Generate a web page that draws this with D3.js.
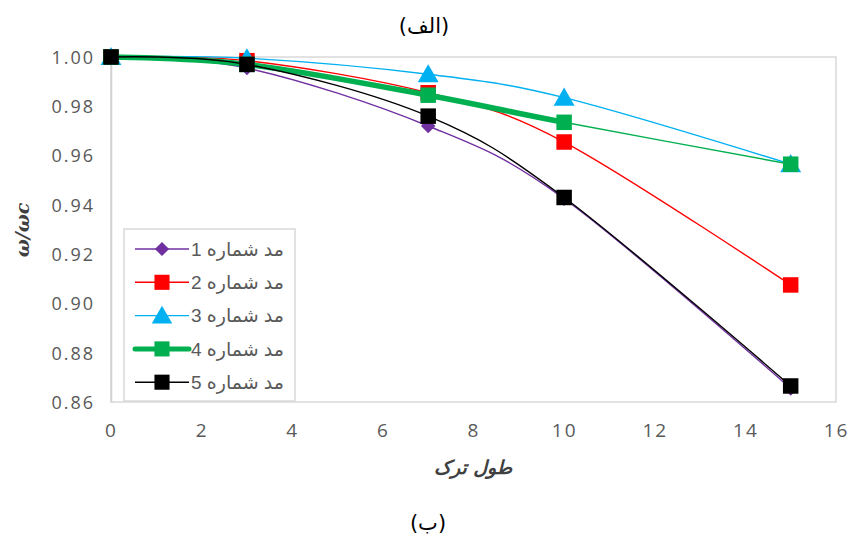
<!DOCTYPE html>
<html><head><meta charset="utf-8">
<script src="https://cdnjs.cloudflare.com/ajax/libs/d3/7.8.5/d3.min.js"></script>
<style>
html,body{margin:0;padding:0;background:#fff;}
svg{display:block;}
</style></head>
<body><svg id="c" width="848" height="535"></svg>
<script>
const xValues = [0, 3, 7, 10, 15];
const seriesNames = ["مد شماره 1", "مد شماره 2", "مد شماره 3", "مد شماره 4", "مد شماره 5"];
const mode1 = [1.000, 0.9955, 0.972, 0.9425, 0.8655];
const mode2 = [1.000, 0.9985, 0.9855, 0.9655, 0.9075];
const mode3 = [1.000, 0.9995, 0.993, 0.9835, 0.9565];
const mode4 = [1.000, 0.997, 0.9845, 0.9735, 0.9565];
const mode5 = [1.000, 0.997, 0.976, 0.943, 0.8665];
const xTicks = [0, 2, 4, 6, 8, 10, 12, 14, 16];
const yTicks = [0.86, 0.88, 0.90, 0.92, 0.94, 0.96, 0.98, 1.00];
const chartTitle = "(الف)";
const bottomLabel = "(ب)";
const xTitle = "طول ترک";
const yTitle = "ω/ωc";

const colors = ["#7030A0", "#FF0000", "#00B0F0", "#00B050", "#000000"];
const symbols = [d3.symbolSquare, d3.symbolSquare, d3.symbolTriangle, d3.symbolSquare, d3.symbolSquare];
const symSizes = [105, 240, 190, 240, 240];
const widths = [1.4, 1.4, 1.4, 1.4, 1.4];
const allSeries = [mode1, mode2, mode3, mode4, mode5];

const svg = d3.select("#c");
const x = d3.scaleLinear().domain([0, 16]).range([111, 836]);
const y = d3.scaleLinear().domain([0.86, 1.00]).range([402, 57]);

svg.append("rect").attr("x", x(0)).attr("y", y(1.0)).attr("width", x(16) - x(0)).attr("height", y(0.86) - y(1.0))
  .attr("fill", "none").attr("stroke", "#d9d9d9").attr("stroke-width", 1.5);

const xAxis = d3.axisBottom(x).tickValues(xTicks).tickSize(0).tickPadding(0).tickFormat(d3.format("d"));
const gx = svg.append("g").attr("transform", `translate(0,${y(0.86)})`).call(xAxis);
gx.select(".domain").remove();
gx.selectAll("text").attr("y", 35).attr("dy", 0).attr("fill", "#595959")
  .style("font-family", "'Open Sans'").style("font-size", "19px").style("letter-spacing", "2px");

const yAxis = d3.axisLeft(y).tickValues(yTicks).tickSize(0).tickPadding(0).tickFormat(d3.format(".2f"));
const gy = svg.append("g").attr("transform", `translate(${x(0)},0)`).call(yAxis);
gy.select(".domain").attr("stroke", "#d0d0d0").attr("stroke-width", 1.5);
gy.selectAll("text").attr("x", -16).attr("dy", "0.35em").attr("fill", "#595959")
  .style("font-family", "'Open Sans'").style("font-size", "18px").style("letter-spacing", "2px");

svg.append("clipPath").attr("id", "clipThick").append("rect")
  .attr("x", 0).attr("y", 0).attr("width", x(10)).attr("height", 535);

const line = d3.line().x((d, i) => x(xValues[i])).y(d => y(d)).curve(d3.curveCardinal.tension(0));

function markerTransform(s, px, py) {
  if (s === 0) return `translate(${px},${py}) rotate(45)`;
  if (s === 2) return `translate(${px},${py + 2})`;
  return `translate(${px},${py})`;
}

allSeries.forEach((vals, s) => {
  const g = svg.append("g");
  g.append("path").attr("d", line(vals)).attr("fill", "none")
    .attr("stroke", colors[s]).attr("stroke-width", widths[s]);
  if (s === 3) {
    g.append("path").attr("d", line(vals)).attr("fill", "none").attr("clip-path", "url(#clipThick)")
      .attr("stroke", colors[s]).attr("stroke-width", 5.5).attr("stroke-linecap", "round");
  }
  g.selectAll("path.m").data(vals).enter().append("path").attr("class", "m")
    .attr("d", d3.symbol().type(symbols[s]).size(symSizes[s]))
    .attr("transform", (d, i) => markerTransform(s, x(xValues[i]), y(d)))
    .attr("fill", colors[s]);
});

const lg = svg.append("g");
lg.append("rect").attr("x", 124).attr("y", 229).attr("width", 171).attr("height", 172)
  .attr("fill", "#fff").attr("stroke", "#d9d9d9").attr("stroke-width", 1.5);
seriesNames.forEach((name, s) => {
  const cy = 249 + s * 33.3;
  lg.append("line").attr("x1", 135).attr("x2", 189).attr("y1", cy).attr("y2", cy)
    .attr("stroke", colors[s]).attr("stroke-width", s === 3 ? 5 : 1.4).attr("stroke-linecap", s === 3 ? "round" : "butt");
  lg.append("path").attr("d", d3.symbol().type(symbols[s]).size(symSizes[s] * 0.95))
    .attr("transform", markerTransform(s, 162, cy))
    .attr("fill", colors[s]);
  lg.append("text").attr("x", 284).attr("y", cy).attr("dy", "0.36em")
    .attr("direction", "rtl").attr("text-anchor", "start")
    .attr("fill", "#595959").style("font-family", "'Liberation Sans','DejaVu Sans'").style("font-size", "19px")
    .text(name);
});

svg.append("text").attr("x", 424).attr("y", 33).attr("text-anchor", "middle").attr("direction", "rtl")
  .style("font-family", "'DejaVu Sans'").style("font-size", "21px").attr("fill", "#000").text(chartTitle);
svg.append("text").attr("x", 473).attr("y", 474).attr("text-anchor", "middle").attr("direction", "rtl")
  .style("font-family", "'DejaVu Sans'").style("font-size", "19px").style("font-weight", "bold").style("font-style", "italic")
  .attr("fill", "#404040").text(xTitle);
svg.append("text").attr("x", 428).attr("y", 530).attr("text-anchor", "middle").attr("direction", "rtl")
  .style("font-family", "'DejaVu Sans'").style("font-size", "21px").attr("fill", "#000").text(bottomLabel);
svg.append("text").attr("transform", `translate(29,230) rotate(-90)`).attr("text-anchor", "middle")
  .style("font-family", "'DejaVu Serif'").style("font-size", "19px").style("font-weight", "bold").style("font-style", "italic")
  .attr("fill", "#404040").text(yTitle);
</script></body></html>
